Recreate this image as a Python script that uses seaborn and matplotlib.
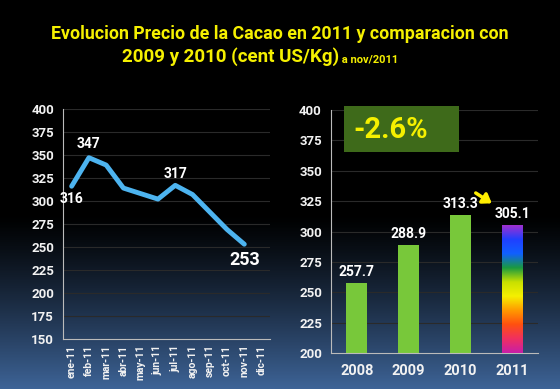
import matplotlib
matplotlib.use("Agg")
import matplotlib.pyplot as plt
import seaborn as sns
import pandas as pd
import numpy as np
from matplotlib.colors import LinearSegmentedColormap
from matplotlib.patches import Rectangle
from matplotlib.ticker import MultipleLocator

months = ['ene-11', 'feb-11', 'mar-11', 'abr-11', 'may-11', 'jun-11',
          'jul-11', 'ago-11', 'sep-11', 'oct-11', 'nov-11', 'dic-11']
price_2011 = [316, 347, 339, 314, 308, 302, 317, 307, 288, 269, 253, np.nan]
years = ['2008', '2009', '2010', '2011']
year_avg = [257.7, 288.9, 313.3, 305.1]
change_label = '-2.6%'

sns.set_style("dark")
plt.rcParams['font.family'] = ['Roboto', 'DejaVu Sans']
plt.rcParams['font.weight'] = 'bold'

fig = plt.figure(figsize=(5.6, 3.89), dpi=100)

# background: black on top, fading to dark blue at the bottom
bg = fig.add_axes([0, 0, 1, 1], zorder=-10)
v = np.linspace(0, 1, 389)
v = np.clip((v - 0.55) / 0.45, 0, 1) ** 1.2
bg_cmap = LinearSegmentedColormap.from_list('bg', ['#000000', '#3d6396'])
bg.imshow(v[:, None], aspect='auto', cmap=bg_cmap, extent=[0, 1, 0, 1],
          vmin=0, vmax=1)
bg.set_axis_off()

txt_col = '#f2f2f2'
grid_col = '#2a2a2a'

# ---- left: monthly line ----
df_m = pd.DataFrame({'mes': months, 'precio': price_2011})
ax1 = fig.add_axes([0.1125, 0.1285, 0.37, 0.5915])
ax1.set_facecolor('none')
sns.lineplot(data=df_m, x='mes', y='precio', ax=ax1, color='#4db4f0',
             linewidth=3.5, sort=False)
ax1.set_xlim(-0.5, 11.5)
ax1.set_ylim(150, 400)
ax1.yaxis.set_major_locator(MultipleLocator(25))
ax1.set_xlabel('')
ax1.set_ylabel('')
ax1.tick_params(axis='x', labelrotation=90, labelsize=7.5, colors=txt_col, length=0, pad=4)
ax1.set_xticks(np.arange(-0.5, 12, 1), minor=True)
ax1.tick_params(axis='x', which='minor', length=3, color='#bbbbbb', direction='out')
ax1.tick_params(axis='y', labelsize=9.5, colors=txt_col, length=3, color='#bbbbbb')
ax1.grid(axis='y', color=grid_col, linewidth=0.8)
ax1.grid(axis='x', visible=False)
for s in ['top', 'right']:
    ax1.spines[s].set_visible(False)
for s in ['left', 'bottom']:
    ax1.spines[s].set_color('#bbbbbb')
    ax1.spines[s].set_linewidth(0.8)

for i, dy, fs, va in [(0, -4, 10, 'top'), (1, 5, 10, 'bottom'),
                      (6, 3, 10, 'bottom'), (10, -5, 13, 'top')]:
    ax1.annotate(f'{price_2011[i]:.0f}', (i, price_2011[i]),
                 xytext=(0, dy), textcoords='offset points',
                 ha='center', va=va, color='white', fontsize=fs, fontweight='bold')

# ---- right: yearly bars ----
df_y = pd.DataFrame({'anio': years, 'valor': year_avg})
ax2 = fig.add_axes([0.591, 0.0925, 0.37, 0.6245])
ax2.set_facecolor('none')
sns.barplot(data=df_y, x='anio', y='valor', ax=ax2, color='#78c83a',
            width=0.4, saturation=1, linewidth=0)
ax2.set_xlim(-0.5, 3.5)
ax2.set_ylim(200, 400)
ax2.yaxis.set_major_locator(MultipleLocator(25))
ax2.set_xlabel('')
ax2.set_ylabel('')
ax2.tick_params(axis='x', labelsize=10.5, colors=txt_col, length=0, pad=8)
ax2.set_xticks(np.arange(-0.5, 4, 1), minor=True)
ax2.tick_params(axis='x', which='minor', length=3, color='#bbbbbb', direction='out')
ax2.tick_params(axis='y', labelsize=9.5, colors=txt_col, length=3, color='#bbbbbb')
ax2.grid(axis='y', color=grid_col, linewidth=0.8)
ax2.grid(axis='x', visible=False)
for s in ['top', 'right']:
    ax2.spines[s].set_visible(False)
for s in ['left', 'bottom']:
    ax2.spines[s].set_color('#bbbbbb')
    ax2.spines[s].set_linewidth(0.8)

# rainbow fill for the current year
last = ax2.patches[3]
rainbow = LinearSegmentedColormap.from_list(
    'rb', ['#c81ea8', '#f03060', '#ff5010', '#ff9a00', '#f5f000',
           '#c8e000', '#1a9a40', '#1060ff', '#2040ff', '#a030d0'])
x0 = last.get_x()
w = last.get_width()
img = ax2.imshow(np.linspace(0, 1, 256)[:, None], cmap=rainbow, origin='lower',
                 aspect='auto', extent=[x0, x0 + w, 200, last.get_height()], zorder=3)
img.set_clip_path(last)
ax2.set_xlim(-0.5, 3.5)
ax2.set_ylim(200, 400)

for i, p in enumerate(ax2.patches[:4]):
    ax2.annotate(f'{year_avg[i]:.1f}', (p.get_x() + p.get_width() / 2, p.get_height()),
                 xytext=(0, 3), textcoords='offset points', ha='center', va='bottom',
                 color='white', fontsize=10, fontweight='bold')

ax2.annotate('', xy=(2.65, 322), xytext=(2.25, 333),
             arrowprops=dict(arrowstyle='-|>,head_width=0.35,head_length=0.5',
                             color='#ffee00', lw=2.5))

# change box
ax2.add_patch(Rectangle((0.063, 0.827), 0.555, 0.19, transform=ax2.transAxes,
                        facecolor='#3e6a1a', edgecolor='none', clip_on=False, zorder=4))
ax2.text(0.29, 0.92, change_label, transform=ax2.transAxes, ha='center', va='center',
         fontsize=21, fontweight='bold', color='#f5f000', zorder=5)

# ---- title ----
fig.text(0.5, 1 - 34 / 389, 'Evolucion Precio de la Cacao en 2011 y comparacion con',
         ha='center', va='center', color='#f5f000', fontsize=12.8, fontweight='bold')
t2 = fig.text(122 / 560, 1 - 57 / 389, '2009 y 2010 (cent US/Kg)',
              ha='left', va='center', color='#f5f000', fontsize=13.5, fontweight='bold')
fig.canvas.draw()
ax2.annotate(' a nov/2011', xy=(1, 0.12), xycoords=t2, ha='left', va='bottom',
             color='#f5f000', fontsize=8, fontweight='bold')

fig.savefig('out.png', dpi=100, facecolor='black')
